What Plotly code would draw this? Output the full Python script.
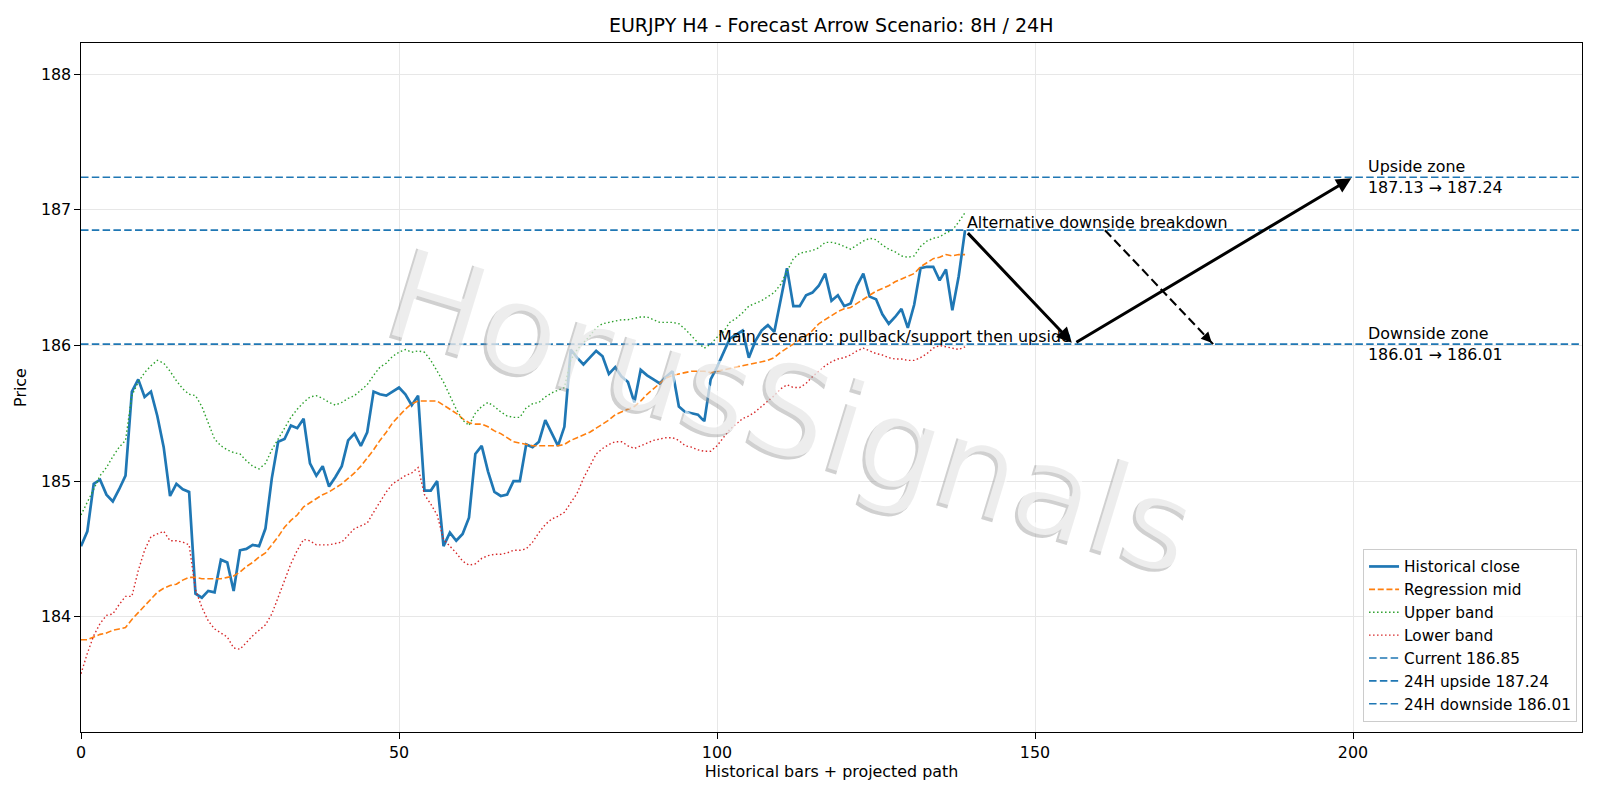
import plotly.graph_objects as go

# ---------------- data ----------------
bars = list(range(140))

close = [184.52, 184.63, 184.98, 185.01, 184.90, 184.85, 184.94, 185.04, 185.66, 185.75,
         185.62, 185.66, 185.48, 185.25, 184.89, 184.98, 184.94, 184.92, 184.17, 184.14,
         184.19, 184.18, 184.42, 184.40, 184.19, 184.49, 184.50, 184.53, 184.52, 184.65,
         185.02, 185.29, 185.31, 185.41, 185.39, 185.46, 185.13, 185.04, 185.11, 184.96,
         185.03, 185.11, 185.30, 185.35, 185.26, 185.36, 185.66, 185.64, 185.63, 185.66,
         185.69, 185.64, 185.56, 185.63, 184.93, 184.93, 185.00, 184.52, 184.62, 184.56,
         184.61, 184.73, 185.20, 185.26, 185.07, 184.92, 184.89, 184.90, 185.00, 185.00,
         185.27, 185.25, 185.29, 185.45, 185.36, 185.26, 185.40, 185.97, 185.91, 185.86,
         185.91, 185.96, 185.92, 185.79, 185.84, 185.77, 185.73, 185.58, 185.82, 185.78,
         185.75, 185.72, 185.77, 185.81, 185.55, 185.51, 185.50, 185.49, 185.44, 185.75,
         185.84, 185.95, 186.05, 186.08, 186.11, 185.91, 186.03, 186.11, 186.15, 186.10,
         186.33, 186.57, 186.29, 186.29, 186.37, 186.39, 186.44, 186.53, 186.33, 186.37,
         186.29, 186.31, 186.44, 186.53, 186.36, 186.34, 186.23, 186.16, 186.21, 186.27,
         186.13, 186.30, 186.57, 186.58, 186.58, 186.48, 186.56, 186.26, 186.51, 186.85]

reg_mid = [183.83, 183.83, 183.85, 183.87, 183.88, 183.90, 183.91, 183.92, 183.98, 184.03,
           184.08, 184.13, 184.18, 184.21, 184.23, 184.24, 184.27, 184.29, 184.29, 184.28,
           184.28, 184.28, 184.28, 184.29, 184.30, 184.33, 184.37, 184.40, 184.44, 184.47,
           184.53, 184.59, 184.66, 184.71, 184.75, 184.81, 184.84, 184.87, 184.90, 184.92,
           184.95, 184.98, 185.02, 185.06, 185.11, 185.17, 185.23, 185.30, 185.36, 185.43,
           185.48, 185.53, 185.57, 185.59, 185.59, 185.59, 185.59, 185.56, 185.53, 185.50,
           185.46, 185.43, 185.42, 185.42, 185.40, 185.37, 185.35, 185.32, 185.29, 185.28,
           185.27, 185.26, 185.26, 185.26, 185.26, 185.26, 185.27, 185.30, 185.32, 185.34,
           185.36, 185.39, 185.42, 185.45, 185.49, 185.51, 185.53, 185.55, 185.59, 185.64,
           185.68, 185.72, 185.76, 185.78, 185.79, 185.80, 185.81, 185.81, 185.81, 185.80,
           185.81, 185.82, 185.83, 185.84, 185.85, 185.86, 185.87, 185.88, 185.89, 185.91,
           185.95, 185.98, 186.01, 186.04, 186.07, 186.11, 186.16, 186.19, 186.22, 186.25,
           186.27, 186.28, 186.31, 186.34, 186.37, 186.40, 186.42, 186.44, 186.47, 186.49,
           186.51, 186.53, 186.58, 186.61, 186.64, 186.65, 186.67, 186.66, 186.67, 186.67]

upper_band = [184.75, 184.84, 184.94, 185.04, 185.10, 185.18, 185.25, 185.30, 185.63, 185.73,
              185.80, 185.85, 185.89, 185.87, 185.81, 185.74, 185.68, 185.64, 185.63, 185.55,
              185.43, 185.31, 185.26, 185.23, 185.21, 185.20, 185.15, 185.11, 185.09, 185.13,
              185.23, 185.31, 185.39, 185.47, 185.53, 185.58, 185.62, 185.63, 185.61, 185.58,
              185.56, 185.58, 185.61, 185.63, 185.67, 185.71, 185.78, 185.84, 185.87, 185.92,
              185.95, 185.97, 185.95, 185.96, 185.95, 185.89, 185.81, 185.73, 185.63, 185.53,
              185.45, 185.41, 185.50, 185.55, 185.58, 185.55, 185.51, 185.48, 185.47, 185.47,
              185.54, 185.57, 185.58, 185.62, 185.65, 185.67, 185.69, 185.89, 185.97, 186.02,
              186.07, 186.13, 186.16, 186.17, 186.18, 186.19, 186.19, 186.20, 186.21, 186.21,
              186.19, 186.17, 186.17, 186.17, 186.16, 186.12, 186.07, 186.02, 185.98, 186.01,
              186.06, 186.10, 186.17, 186.20, 186.24, 186.29, 186.31, 186.33, 186.36, 186.39,
              186.45, 186.55, 186.64, 186.68, 186.69, 186.70, 186.72, 186.76, 186.76, 186.75,
              186.73, 186.71, 186.74, 186.77, 186.79, 186.78, 186.74, 186.71, 186.69, 186.66,
              186.65, 186.66, 186.73, 186.77, 186.79, 186.80, 186.83, 186.85, 186.91, 186.98]

lower_band = [183.58, 183.73, 183.86, 183.95, 184.01, 184.02, 184.09, 184.15, 184.15, 184.34,
              184.49, 184.59, 184.61, 184.63, 184.56, 184.56, 184.55, 184.53, 184.20, 184.07,
              183.97, 183.91, 183.88, 183.85, 183.77, 183.76, 183.81, 183.86, 183.90, 183.94,
              184.02, 184.14, 184.26, 184.39, 184.49, 184.57, 184.56, 184.53, 184.53, 184.53,
              184.54, 184.55, 184.60, 184.65, 184.67, 184.69, 184.77, 184.85, 184.92, 184.98,
              185.01, 185.04, 185.06, 185.10, 184.90, 184.83, 184.75, 184.57, 184.52, 184.47,
              184.41, 184.38, 184.39, 184.43, 184.45, 184.46, 184.46, 184.47, 184.49, 184.49,
              184.50, 184.55, 184.62, 184.68, 184.72, 184.74, 184.77, 184.84, 184.91, 185.02,
              185.11, 185.20, 185.24, 185.27, 185.29, 185.29, 185.26, 185.24, 185.26, 185.28,
              185.30, 185.31, 185.32, 185.32, 185.30, 185.26, 185.25, 185.23, 185.22, 185.22,
              185.26, 185.32, 185.38, 185.42, 185.46, 185.48, 185.51, 185.55, 185.59, 185.63,
              185.68, 185.71, 185.69, 185.69, 185.72, 185.77, 185.81, 185.85, 185.88, 185.90,
              185.91, 185.93, 185.96, 185.98, 185.96, 185.94, 185.93, 185.91, 185.90, 185.90,
              185.89, 185.89, 185.91, 185.94, 185.98, 186.00, 185.99, 185.98, 185.97, 185.99]

current_price = 186.85
upside_24h = 187.24
downside_24h = 186.01
upside_zone = (187.13, 187.24)
downside_zone = (186.01, 186.01)

# projected paths (bar index, price)
main_path_x = [139, 156, 200]
main_path_y = [186.85, 186.01, 187.24]
alt_path_x = [161, 178]
alt_path_y = [186.85, 186.01]

x_ticks = [0, 50, 100, 150, 200]
y_ticks = [184, 185, 186, 187, 188]
x_range = [0, 236]
y_range = [183.15, 188.23]
zone_label_x = 202

# ---------------- figure ----------------
FONT = "DejaVu Sans"
FS = 15.9
BLUE = "#1f77b4"

fig = go.Figure()
fig.add_trace(go.Scatter(x=bars, y=close, mode="lines", name="Historical close",
                         line=dict(color=BLUE, width=2.7)))
fig.add_trace(go.Scatter(x=bars, y=reg_mid, mode="lines", name="Regression mid",
                         line=dict(color="#ff7f0e", width=1.6, dash="6px,2.7px")))
fig.add_trace(go.Scatter(x=bars, y=upper_band, mode="lines", name="Upper band",
                         line=dict(color="#2ca02c", width=1.4, dash="1.5px,2.5px")))
fig.add_trace(go.Scatter(x=bars, y=lower_band, mode="lines", name="Lower band",
                         line=dict(color="#d62728", width=1.4, dash="1.5px,2.5px")))

for lvl, nm in [(current_price, f"Current {current_price:.2f}"),
                (upside_24h, f"24H upside {upside_24h:.2f}"),
                (downside_24h, f"24H downside {downside_24h:.2f}")]:
    fig.add_trace(go.Scatter(x=x_range, y=[lvl, lvl], mode="lines", name=nm,
                             line=dict(color=BLUE, width=1.6, dash="7.5px,3.3px")))

# dashed shaft of the alternative arrow
fig.add_trace(go.Scatter(x=alt_path_x, y=alt_path_y, mode="lines", showlegend=False,
                         hoverinfo="skip", line=dict(color="black", width=2.1, dash="9px,4.5px")))

annotations = []
# watermark (shadow + face), centred near the figure centre
wm_x = (792 - 81) / 1501
wm_y = (732 - 410) / 689
annotations.append(dict(text="HorusSignals", xref="paper", yref="paper", x=wm_x, y=wm_y,
                        xshift=-3, yshift=-3, showarrow=False, textangle=17,
                        font=dict(family=FONT, size=128, color="rgba(150,150,150,0.45)")))
annotations.append(dict(text="HorusSignals", xref="paper", yref="paper", x=wm_x, y=wm_y,
                        showarrow=False, textangle=17,
                        font=dict(family=FONT, size=128, color="rgba(255,255,255,0.62)")))

# main scenario arrows
for i in range(len(main_path_x) - 1):
    annotations.append(dict(x=main_path_x[i + 1], y=main_path_y[i + 1],
                            ax=main_path_x[i], ay=main_path_y[i], xref="x", yref="y",
                            axref="x", ayref="y", showarrow=True, arrowhead=2,
                            arrowsize=1, arrowwidth=3, arrowcolor="black",
                            standoff=2, startstandoff=2, text=""))
# alternative arrow head
annotations.append(dict(x=alt_path_x[-1], y=alt_path_y[-1], xref="x", yref="y",
                        ax=-8.3, ay=-8.7, showarrow=True, arrowhead=2, arrowsize=1,
                        arrowwidth=2.1, arrowcolor="black", standoff=2, text=""))

# texts
annotations.append(dict(text="Alternative downside breakdown", x=main_path_x[0],
                        y=current_price, xref="x", yref="y", xanchor="left", yanchor="bottom",
                        yshift=-4, showarrow=False, font=dict(family=FONT, size=FS, color="black")))
annotations.append(dict(text="Main scenario: pullback/support then upside", x=main_path_x[1],
                        y=downside_24h, xref="x", yref="y", xanchor="right", yanchor="bottom",
                        yshift=-4, showarrow=False, font=dict(family=FONT, size=FS, color="black")))
annotations.append(dict(text=f"Upside zone<br>{upside_zone[0]:.2f} → {upside_zone[1]:.2f}",
                        x=zone_label_x, y=upside_24h, xref="x", yref="y", xanchor="left",
                        yanchor="middle", align="left", showarrow=False,
                        font=dict(family=FONT, size=FS, color="black")))
annotations.append(dict(text=f"Downside zone<br>{downside_zone[0]:.2f} → {downside_zone[1]:.2f}",
                        x=zone_label_x, y=downside_24h, xref="x", yref="y", xanchor="left",
                        yanchor="middle", align="left", showarrow=False,
                        font=dict(family=FONT, size=FS, color="black")))

axis_common = dict(showgrid=True, gridcolor="#e7e7e7", gridwidth=1.2, zeroline=False,
                   showline=True, linecolor="black", linewidth=1.2, mirror=True,
                   ticks="outside", ticklen=5.5, tickwidth=1.2, tickcolor="black",
                   tickfont=dict(family=FONT, size=FS, color="black"))

fig.update_layout(
    width=1600, height=800,
    paper_bgcolor="white", plot_bgcolor="white",
    margin=dict(l=81, r=18, t=43, b=68),
    font=dict(family=FONT, size=FS, color="black"),
    title=dict(text="EURJPY H4 - Forecast Arrow Scenario: 8H / 24H", x=0.5195, xanchor="center",
               y=1 - 25.5 / 800, yanchor="middle", yref="container",
               font=dict(family=FONT, size=19, color="black")),
    xaxis=dict(range=x_range, tickvals=x_ticks, **axis_common,
               title=dict(text="Historical bars + projected path", standoff=4,
                          font=dict(family=FONT, size=FS, color="black"))),
    yaxis=dict(range=y_range, tickvals=y_ticks, **axis_common,
               title=dict(text="Price", standoff=10,
                          font=dict(family=FONT, size=FS, color="black"))),
    legend=dict(x=0.9967, y=0.0145, xanchor="right", yanchor="bottom",
                bgcolor="rgba(255,255,255,0.8)", bordercolor="#cccccc", borderwidth=1,
                font=dict(family=FONT, size=15.3, color="black")),
    annotations=annotations,
    showlegend=True,
)

fig.write_html("out.html")
